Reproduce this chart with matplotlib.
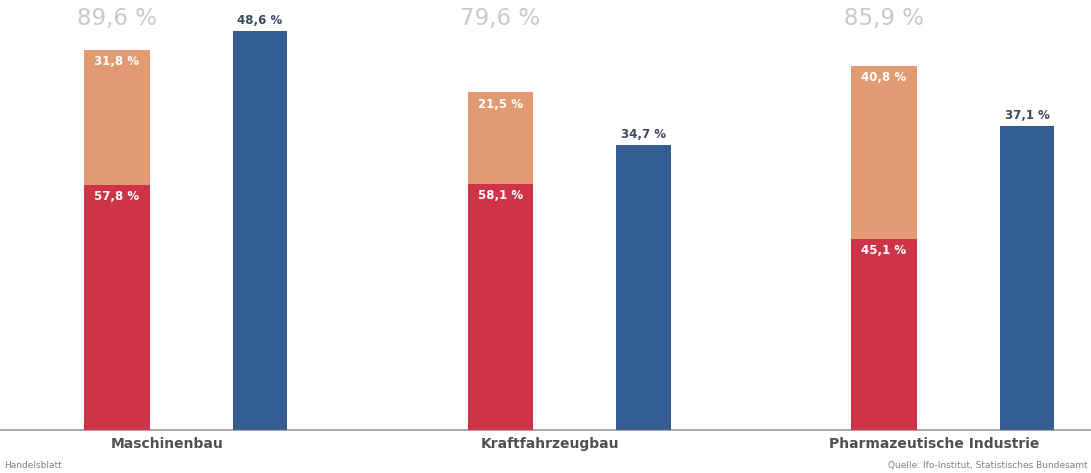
import matplotlib
matplotlib.use("Agg")
import matplotlib.pyplot as plt
import numpy as np

categories = ["Maschinenbau", "Kraftfahrzeugbau", "Pharmazeutische Industrie"]
red_vals = [57.8, 58.1, 45.1]
orange_vals = [31.8, 21.5, 40.8]
blue_vals = [48.6, 34.7, 37.1]

RED = "#cf3347"
ORANGE = "#e29a73"
BLUE = "#345d92"

def fmt(v):
    return f"{v:.1f}".replace(".", ",") + " %"

fig = plt.figure(figsize=(10.91, 4.73), dpi=100)
ax = fig.add_axes([0, 43/473, 1, 430/473])
ax2 = ax.twinx()

x = np.arange(len(categories))
off_blue = 0.373
w_stack = 0.172
w_blue = 0.143

ax.bar(x, red_vals, width=w_stack, color=RED, zorder=2)
ax.bar(x, orange_vals, bottom=red_vals, width=w_stack, color=ORANGE, zorder=2)
ax2.bar(x + off_blue, blue_vals, width=w_blue, color=BLUE, zorder=2)

ax.set_ylim(0, 430/4.24)
ax2.set_ylim(0, 430/8.2)
for a in (ax, ax2):
    a.set_xlim(-117/383.5, (1091-117)/383.5)
    a.axis("off")

for i in range(len(categories)):
    r, o, b = red_vals[i], orange_vals[i], blue_vals[i]
    ax.text(x[i], r - 1.2, fmt(r), ha="center", va="top", color="white",
            fontsize=8.5, fontweight="bold", zorder=3)
    ax.text(x[i], r + o - 1.2, fmt(o), ha="center", va="top", color="white",
            fontsize=8.5, fontweight="bold", zorder=3)
    ax.text(x[i], 97.0, fmt(r + o), ha="center", va="center", color="#c9c9c9",
            fontsize=16.5, zorder=3)
    ax2.text(x[i] + off_blue, b + 0.5, fmt(b), ha="center", va="bottom",
             color="#3a4a63", fontsize=8.5, fontweight="bold", zorder=3)
    ax.text(x[i] + 0.13, -1.6, categories[i], ha="center", va="top",
            color="#505050", fontsize=10, fontweight="bold", clip_on=False)

ax.axhline(0, color="#9a9a9a", lw=1.2, zorder=1, clip_on=False)

fig.text(0.004, 8/473, "Handelsblatt", ha="left", va="center", fontsize=6.5, color="#808080")
fig.text(0.997, 8/473, "Quelle: Ifo-Institut, Statistisches Bundesamt", ha="right",
         va="center", fontsize=6.5, color="#808080")

fig.savefig("out.png", dpi=100)
